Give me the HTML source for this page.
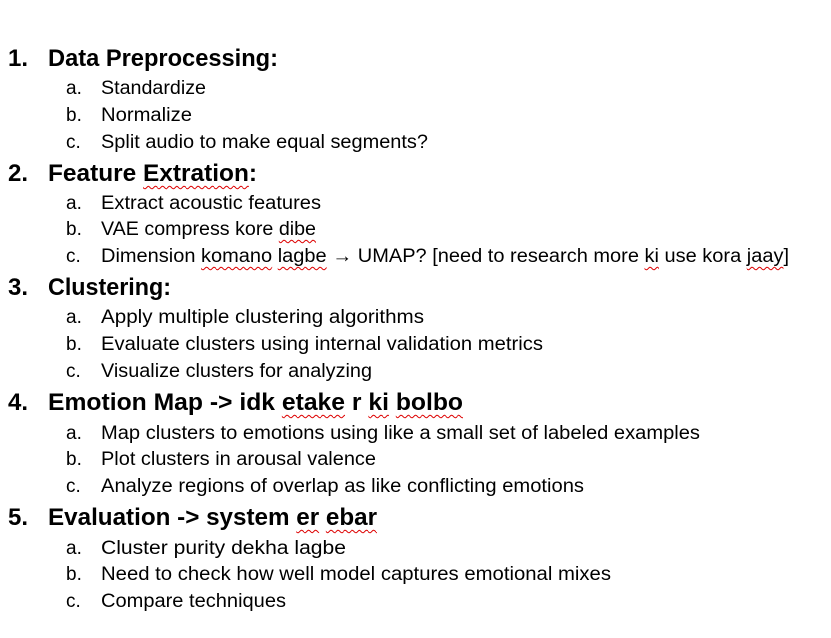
<!DOCTYPE html>
<html><head><meta charset="utf-8">
<style>
body{margin:0;width:831px;height:638px;background:#fff;position:relative;overflow:hidden;font-family:"Liberation Sans",sans-serif;color:#000}
.l{position:absolute;height:28px;line-height:28px;white-space:nowrap}
.h{font-weight:bold;font-size:24px}
.s{font-size:19px}
.t{display:inline-block;transform-origin:0 50%}
.w{text-decoration:underline wavy #d00;text-decoration-thickness:1px;text-underline-offset:4px}
</style></head><body>
<div id="doc"></div>
<script>
const items=[
["h","1.","Data Preprocessing:",230,57],
["s","a.","Standardize",105,87],
["s","b.","Normalize",91,114],
["s","c.","Split audio to make equal segments?",327,141],
["h","2.","Feature <span class='w'>Extration</span>:",209,172],
["s","a.","Extract acoustic features",220,202],
["s","b.","VAE compress kore <span class='w'>dibe</span>",215,228],
["s","c.","Dimension <span class='w'>komano</span> <span class='w'>lagbe</span> → UMAP? [need to research more <span class='w'>ki</span> use kora <span class='w'>jaay</span>]",688,255],
["h","3.","Clustering:",123,286],
["s","a.","Apply multiple clustering algorithms",323,316],
["s","b.","Evaluate clusters using internal validation metrics",442,343],
["s","c.","Visualize clusters for analyzing",271,370],
["h","4.","Emotion Map -&gt; idk <span class='w'>etake</span> r <span class='w'>ki</span> <span class='w'>bolbo</span>",415,401],
["s","a.","Map clusters to emotions using like a small set of labeled examples",599,432],
["s","b.","Plot clusters in arousal valence",275,458],
["s","c.","Analyze regions of overlap as like conflicting emotions",483,485],
["h","5.","Evaluation -&gt; system <span class='w'>er</span> <span class='w'>ebar</span>",329,516],
["s","a.","Cluster purity dekha lagbe",245,547],
["s","b.","Need to check how well model captures emotional mixes",510,573],
["s","c.","Compare techniques",185,600]
];
const doc=document.getElementById('doc');
items.forEach((it,i)=>{
  const [k,num,txt,w,cy]=it;
  const n=document.createElement('div');
  n.className='l '+k;
  n.style.top=(cy-12)+'px';
  n.style.left=(k==='h'?8:66)+'px';
  n.textContent=num;
  
  
  doc.appendChild(n);
  const d=document.createElement('div');
  d.className='l '+k;
  d.style.top=(cy-12)+'px';
  d.style.left=(k==='h'?48:101)+'px';
  
  
  const t=document.createElement('span');
  t.className='t';
  t.innerHTML=txt;
  d.appendChild(t);
  doc.appendChild(d);
  const aw=t.getBoundingClientRect().width;
  if(aw>0)t.style.transform='scaleX('+(w/aw)+')';
});
</script>
</body></html>
